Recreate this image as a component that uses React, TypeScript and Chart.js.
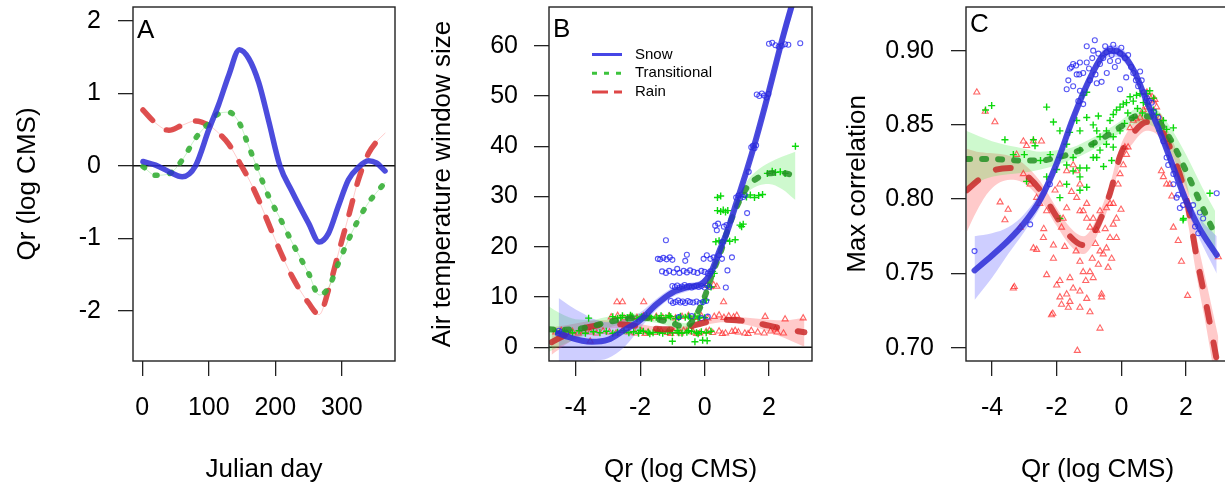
import React, { useEffect, useRef } from 'react';
import { Chart, registerables } from 'chart.js';

Chart.register(...registerables);

const FONT = '"Liberation Sans", Arial, Helvetica, sans-serif';

// ---------------- Panel A : seasonal Qr curves ----------------
const aDays = [1, 20, 40, 60, 80, 100, 115, 130, 146, 160, 175, 190, 207, 225, 250, 266, 280, 295, 310, 325, 340, 352, 365];
const aSnow = [0.06, 0.01, -0.08, -0.15, 0.0, 0.5, 0.85, 1.25, 1.6, 1.48, 1.15, 0.62, 0.0, -0.35, -0.79, -1.05, -0.93, -0.55, -0.19, -0.02, 0.07, 0.04, -0.07];
const aTrans = [-0.01, -0.13, -0.11, 0.08, 0.38, 0.59, 0.72, 0.74, 0.59, 0.27, -0.08, -0.42, -0.72, -1.05, -1.48, -1.78, -1.68, -1.34, -1.02, -0.74, -0.51, -0.37, -0.23];
const aRain = [0.77, 0.59, 0.49, 0.56, 0.62, 0.56, 0.45, 0.3, 0.05, -0.18, -0.47, -0.8, -1.17, -1.52, -1.89, -2.05, -1.71, -1.2, -0.7, -0.19, 0.17, 0.33, 0.45];
const aXTicks = [0, 100, 200, 300];
const aXLabels = ['0', '100', '200', '300'];
const aYTicks = [-2, -1, 0, 1, 2];
const aYLabels = ['-2', '-1', '0', '1', '2'];

// ---------------- Panel B : window size ----------------
const bSnowX = [-4.53, -4.2, -3.8, -3.5, -3.0, -2.5, -2.0, -1.5, -1.0, -0.5, -0.1, 0.2, 0.45, 0.7, 1.0, 1.3, 1.6, 2.0, 2.4, 2.8, 3.05];
const bSnowY = [2.8, 2.0, 1.3, 1.1, 1.5, 3.4, 5.4, 8.5, 10.9, 12.0, 12.6, 14.9, 19.0, 23.0, 29.0, 35.0, 41.5, 51.0, 61.0, 70.0, 75.0];
const bSnowLo = [-6.0, -4.5, -3.5, -2.8, -2.2, 0.0, 3.8, 7.4, 10.0, 11.2, 11.8, 14.0, 18.0, 22.0, 28.0, 33.9, 40.2, 49.5, 59.2, 67.8, 72.4];
const bSnowHi = [9.8, 8.3, 6.8, 5.8, 5.0, 5.6, 6.9, 9.6, 11.8, 12.8, 13.4, 15.8, 20.0, 24.0, 30.0, 36.1, 42.8, 52.5, 62.8, 72.2, 77.6];
const bTransX = [-4.83, -4.5, -4.0, -3.5, -3.0, -2.5, -2.0, -1.5, -1.0, -0.6, -0.3, 0.0, 0.25, 0.5, 0.75, 1.0, 1.3, 1.6, 2.0, 2.4, 2.82];
const bTransY = [3.6, 3.5, 3.6, 4.2, 5.0, 5.6, 5.9, 5.6, 4.8, 4.0, 6.0, 10.0, 14.8, 19.0, 24.0, 28.0, 31.7, 33.5, 34.6, 34.7, 34.1];
const bTransLo = [-0.9, 0.2, 1.6, 2.9, 3.9, 4.7, 5.1, 4.9, 4.0, 3.2, 5.0, 9.0, 13.9, 18.2, 23.1, 27.0, 30.5, 32.0, 32.5, 31.5, 29.3];
const bTransHi = [8.1, 6.8, 5.6, 5.5, 6.1, 6.5, 6.7, 6.3, 5.6, 4.8, 7.0, 11.0, 15.7, 19.8, 24.9, 29.0, 32.9, 35.0, 36.7, 37.9, 38.9];
const bRainX = [-4.75, -4.3, -3.8, -3.3, -2.8, -2.3, -1.8, -1.3, -0.8, -0.3, 0.2, 0.6, 1.0, 1.5, 2.0, 2.5, 3.1];
const bRainY = [1.0, 2.5, 3.7, 4.4, 4.6, 4.4, 3.9, 3.6, 3.6, 4.4, 5.2, 5.5, 5.4, 5.0, 4.3, 3.6, 3.0];
const bRainLo = [-1.5, 0.6, 2.4, 3.4, 3.8, 3.8, 3.4, 3.2, 3.2, 3.9, 4.7, 5.0, 4.8, 4.2, 3.1, 1.8, 0.1];
const bRainHi = [4.0, 4.4, 5.0, 5.4, 5.4, 5.0, 4.4, 4.0, 4.0, 4.9, 5.7, 6.0, 6.0, 5.8, 5.5, 5.4, 5.9];
const bSnowPts = [
  [-4.52, 3.3], [-4.45, 3.0], [-4.3, 2.9], [-4.55, 2.7],
  [-1.05, 9.2], [-0.98, 8.8], [-0.9, 9.0], [-0.82, 9.3], [-0.75, 8.9], [-0.68, 9.1], [-0.6, 8.8], [-0.52, 9.2], [-0.45, 9.0], [-0.35, 8.9], [-0.25, 9.1], [-0.15, 8.8], [-0.05, 9.0], [0.05, 9.2],
  [-1.0, 12.2], [-0.92, 12.0], [-0.85, 12.3], [-0.78, 11.9], [-0.7, 12.1], [-0.62, 12.4], [-0.55, 12.0], [-0.48, 12.2], [-0.4, 11.9], [-0.32, 12.1], [-0.25, 12.3], [-0.18, 12.0], [-0.1, 12.2], [0.0, 11.9], [0.08, 12.3], [0.15, 12.0], [0.66, 11.9],
  [-1.32, 15.1], [-1.2, 14.8], [-1.1, 15.2], [-0.96, 14.9], [-0.85, 15.6], [-0.78, 14.8], [-0.65, 15.2], [-0.55, 14.9], [-0.45, 15.3], [-0.34, 15.0], [-0.22, 14.8], [-0.1, 15.2], [0.0, 15.0], [0.1, 14.7], [0.18, 15.1], [0.71, 15.3],
  [-1.45, 17.6], [-1.38, 17.5], [-1.28, 17.8], [-1.18, 17.5], [-1.08, 17.9], [-1.0, 17.4], [-0.55, 18.4], [-0.6, 17.2], [-0.03, 17.6], [0.07, 18.3], [0.18, 17.6], [0.28, 17.9], [0.45, 18.3], [0.54, 17.6], [0.85, 17.9],
  [-1.2, 21.3], [0.33, 24.2], [0.38, 23.3], [0.42, 24.6], [0.6, 24.0], [0.68, 24.3], [0.55, 21.0],
  [0.98, 29.8], [1.05, 30.2], [1.1, 29.6], [1.15, 30.4], [1.2, 29.9], [1.25, 30.3], [1.32, 26.7], [1.37, 34.9],
  [1.45, 39.8], [1.5, 40.1], [1.55, 39.6], [1.6, 40.2],
  [1.62, 50.3], [1.7, 50.0], [1.78, 50.5], [1.85, 50.1], [1.92, 49.7], [1.98, 50.4],
  [2.0, 60.4], [2.1, 60.6], [2.2, 60.1], [2.3, 59.8], [2.4, 60.0], [2.5, 60.3], [2.6, 60.2], [2.97, 60.5],
  [-0.8, 6.0], [-0.4, 6.2], [-0.1, 5.8], [0.1, 6.1],
];
const bTransPts = [
  [-4.62, 3.2], [-4.5, 2.8], [-4.35, 3.1], [-4.1, 2.9], [-3.9, 3.3], [-3.7, 2.8], [-3.45, 3.1], [-3.25, 2.9], [-3.05, 3.2], [-2.85, 2.8], [-2.7, 3.0], [-2.5, 3.3], [-2.35, 2.9], [-2.2, 3.1], [-2.05, 2.8], [-1.9, 3.2], [-1.75, 3.0], [-1.6, 2.9], [-1.45, 3.2], [-1.3, 2.8], [-1.15, 3.1], [-1.0, 2.9], [-0.85, 3.3], [-0.7, 2.8], [-0.55, 3.0], [-0.4, 3.2], [-0.25, 2.9], [-0.1, 3.1], [0.05, 2.9], [0.2, 3.2],
  [-2.0, 3.4], [-1.7, 2.7], [-1.4, 3.0], [-1.1, 3.4], [-0.8, 2.9], [-0.5, 3.3], [-0.2, 2.7],
  [-2.85, 6.1], [-2.7, 5.8], [-2.55, 6.3], [-2.4, 5.9], [-2.25, 6.2], [-2.1, 5.7], [-1.95, 6.1], [-1.8, 6.3], [-1.65, 5.8], [-1.5, 6.0], [-1.35, 6.3], [-1.2, 5.9], [-1.05, 6.1], [-0.9, 5.7], [-0.75, 6.2], [-0.6, 6.0], [-0.45, 5.8], [-0.3, 6.2], [-0.15, 6.0], [0.0, 5.9],
  [-2.6, 5.9], [-2.3, 6.4], [-2.0, 5.9], [-1.7, 6.1], [-1.4, 5.8], [-1.1, 6.3], [-0.8, 5.9], [-0.5, 6.2], [-0.2, 5.8],
  [-1.0, 1.2], [-0.3, 1.1], [-0.06, 1.4], [0.08, 1.3], [-3.6, 5.8],
  [-0.05, 9.0], [0.05, 9.4], [0.1, 12.2], [0.2, 12.0], [0.25, 15.1], [0.3, 14.7],
  [0.35, 21.0], [0.45, 21.2], [0.55, 20.9], [0.65, 21.3], [0.78, 21.1], [0.95, 21.4],
  [0.4, 27.2], [0.5, 27.0], [0.58, 27.3], [0.65, 26.9], [0.72, 27.2], [0.4, 29.8], [0.5, 30.1],
  [1.1, 24.3], [1.15, 24.0], [1.2, 24.5],
  [1.3, 29.9], [1.42, 30.3], [1.55, 29.8], [1.68, 30.2], [1.8, 30.4],
  [1.95, 34.6], [2.1, 35.0], [2.2, 34.8], [2.35, 34.9], [2.5, 34.6], [2.82, 40.0],
];
const bRainPts = [
  [-4.62, 3.0], [-4.45, 3.3], [-4.28, 2.9], [-4.1, 3.1], [-3.92, 2.8], [-3.75, 3.2], [-3.55, 3.0], [-3.35, 2.8], [-3.15, 3.2], [-2.95, 3.0], [-2.75, 2.8], [-2.55, 3.3], [-2.35, 3.0], [-2.15, 2.8], [-1.95, 3.2], [-1.75, 3.0], [-1.55, 2.9], [-1.35, 3.2], [-1.15, 2.9], [-0.95, 3.1], [-0.75, 2.8], [-0.55, 3.2], [-0.35, 3.0], [-0.15, 2.8], [0.05, 3.1], [0.25, 2.9], [0.45, 3.2], [0.65, 2.8], [0.85, 3.1], [1.05, 3.0], [1.25, 2.8], [1.45, 3.3], [1.65, 3.0], [1.85, 2.8], [2.05, 3.2], [2.25, 3.0], [2.45, 2.8],
  [-1.85, 2.7], [-1.45, 3.3], [-1.05, 2.7], [-0.65, 3.3], [-0.25, 2.7], [0.15, 3.3], [0.55, 2.7], [0.95, 3.3], [1.35, 2.7],
  [-2.9, 6.0], [-2.7, 6.3], [-2.5, 5.8], [-2.3, 6.1], [-2.1, 5.9], [-1.9, 6.2], [-1.7, 5.8], [-1.5, 6.1], [-1.3, 5.9], [-1.1, 6.2], [-0.9, 5.8], [-0.7, 6.1], [-0.5, 6.3], [-0.3, 5.9], [-0.1, 6.2], [0.1, 5.8], [0.3, 6.1], [0.45, 6.4], [0.6, 5.9], [0.75, 6.2], [0.9, 6.0], [1.0, 6.3], [1.88, 6.1], [2.5, 5.6], [3.06, 5.8],
  [-2.72, 9.0], [-2.55, 9.0], [-1.89, 9.0], [0.59, 9.0],
  [0.08, 12.3], [0.18, 12.0], [0.28, 12.4], [0.38, 12.1],
  [-3.55, 1.2], [2.2, 3.6],
];
const bXTicks = [-4, -2, 0, 2];
const bXLabels = ['-4', '-2', '0', '2'];
const bYTicks = [0, 10, 20, 30, 40, 50, 60];
const bYLabels = ['0', '10', '20', '30', '40', '50', '60'];
const legendLabels = ['Snow', 'Transitional', 'Rain'];

// ---------------- Panel C : max correlation ----------------
const cSnowX = [-4.54, -4.0, -3.5, -3.0, -2.5, -2.0, -1.5, -1.0, -0.6, -0.35, 0.0, 0.4, 0.8, 1.2, 1.6, 2.0, 2.4, 2.95];
const cSnowY = [0.752, 0.762, 0.772, 0.784, 0.8, 0.824, 0.854, 0.88, 0.896, 0.9, 0.898, 0.886, 0.865, 0.845, 0.822, 0.799, 0.781, 0.7624];
const cSnowLo = [0.732, 0.747, 0.763, 0.778, 0.795, 0.82, 0.85, 0.876, 0.892, 0.896, 0.894, 0.882, 0.861, 0.841, 0.817, 0.794, 0.774, 0.75];
const cSnowHi = [0.775, 0.777, 0.781, 0.79, 0.805, 0.828, 0.858, 0.884, 0.9, 0.904, 0.902, 0.89, 0.869, 0.849, 0.827, 0.804, 0.788, 0.775];
const cTransX = [-4.8, -4.0, -3.0, -2.5, -2.0, -1.5, -1.0, -0.5, 0.0, 0.5, 1.0, 1.5, 2.0, 2.5, 2.9];
const cTransY = [0.827, 0.827, 0.826, 0.826, 0.828, 0.831, 0.836, 0.842, 0.849, 0.856, 0.855, 0.841, 0.819, 0.795, 0.776];
const cTransLo = [0.808, 0.815, 0.818, 0.82, 0.823, 0.827, 0.832, 0.838, 0.845, 0.851, 0.849, 0.833, 0.808, 0.782, 0.76];
const cTransHi = [0.846, 0.839, 0.834, 0.832, 0.833, 0.835, 0.84, 0.846, 0.853, 0.861, 0.861, 0.849, 0.83, 0.808, 0.792];
const cRainX = [-4.78, -4.47, -4.06, -3.44, -3.03, -2.51, -2.0, -1.59, -1.17, -0.76, -0.35, -0.04, 0.37, 0.79, 1.2, 1.61, 2.02, 2.33, 2.64, 3.0];
const cRainY = [0.806, 0.812, 0.8185, 0.821, 0.8175, 0.806, 0.788, 0.775, 0.769, 0.781, 0.804, 0.829, 0.8444, 0.852, 0.8477, 0.829, 0.7995, 0.761, 0.7276, 0.686];
const cRainLo = [0.778, 0.792, 0.806, 0.813, 0.811, 0.8, 0.782, 0.769, 0.763, 0.775, 0.798, 0.823, 0.838, 0.846, 0.841, 0.82, 0.788, 0.748, 0.712, 0.665];
const cRainHi = [0.834, 0.832, 0.831, 0.829, 0.824, 0.812, 0.794, 0.781, 0.775, 0.787, 0.81, 0.835, 0.851, 0.858, 0.854, 0.838, 0.811, 0.774, 0.743, 0.707];
const cSnowPts = [
  [-4.54, 0.765], [-2.82, 0.783], [-2.21, 0.81],
  [-0.82, 0.907], [-1.07, 0.903], [-1.28, 0.892], [-1.49, 0.891], [-1.54, 0.889], [-1.4, 0.89], [-1.18, 0.885], [-1.64, 0.88], [-1.49, 0.876], [-1.3, 0.884], [-1.07, 0.892], [-0.87, 0.9], [-0.71, 0.898], [-0.66, 0.891], [-0.56, 0.895], [-0.46, 0.899], [-0.35, 0.901], [-0.25, 0.904], [-0.15, 0.9], [-0.04, 0.898], [0.11, 0.895], [0.21, 0.897], [-0.35, 0.893], [-0.2, 0.889], [-0.61, 0.879], [-0.76, 0.878], [-0.97, 0.88], [-1.28, 0.873], [-1.33, 0.866], [-1.18, 0.864], [-1.69, 0.874], [-1.59, 0.888], [-1.38, 0.884], [-0.04, 0.874], [0.37, 0.885], [0.52, 0.876], [0.63, 0.88], [0.58, 0.886], [0.79, 0.868], [1.0, 0.859], [0.94, 0.865], [1.14, 0.855], [1.3, 0.839], [1.4, 0.828], [1.45, 0.823], [1.61, 0.81], [1.81, 0.794], [1.91, 0.796], [1.61, 0.817], [1.71, 0.801], [2.22, 0.796], [2.43, 0.791], [1.76, 0.803], [2.07, 0.796], [2.28, 0.7815], [2.38, 0.777], [2.12, 0.793], [2.95, 0.804], [2.53, 0.787],
  [-0.5, 0.903], [-0.3, 0.897], [-0.1, 0.893], [0.0, 0.902], [0.3, 0.889], [-0.9, 0.895], [-1.0, 0.888], [-0.45, 0.885], [-0.8, 0.884], [0.15, 0.882], [0.45, 0.88], [0.7, 0.872], [0.85, 0.866],
];
const cTransPts = [
  [-4.01, 0.863], [-4.2, 0.86], [-3.6, 0.84], [-3.34, 0.83], [-2.72, 0.84], [-2.67, 0.836], [-2.31, 0.862], [-2.1, 0.852], [-1.9, 0.846], [-1.38, 0.853], [-1.28, 0.846], [-1.07, 0.855], [-0.87, 0.85], [-0.71, 0.856], [-0.76, 0.846], [-0.46, 0.846], [-0.35, 0.853], [-0.25, 0.857], [-0.15, 0.86], [-0.04, 0.862], [0.06, 0.864], [0.16, 0.865], [0.27, 0.869], [0.37, 0.866], [0.47, 0.87], [0.58, 0.871], [0.68, 0.865], [0.79, 0.871], [0.88, 0.873], [0.99, 0.86], [1.09, 0.857], [1.3, 0.853], [1.4, 0.847], [-1.07, 0.872], [-1.18, 0.87],
  [-1.9, 0.828], [-1.69, 0.823], [-1.49, 0.819], [-1.28, 0.815], [-1.07, 0.821], [-0.87, 0.828], [-0.66, 0.833], [-0.46, 0.837], [-0.25, 0.842], [-1.28, 0.833], [-0.87, 0.837], [-1.69, 0.837], [-1.49, 0.828], [-1.69, 0.81], [-1.28, 0.806], [-1.07, 0.808], [-1.9, 0.787], [-2.31, 0.815], [-2.93, 0.812], [-1.9, 0.801], [-1.28, 0.821], [-0.76, 0.828], [-0.25, 0.835], [-0.04, 0.846], [0.37, 0.855], [0.2, 0.858], [-0.66, 0.842],
  [1.91, 0.786], [2.74, 0.804], [1.92, 0.787], [1.19, 0.846], [1.5, 0.839], [1.61, 0.848], [-2.5, 0.826], [-2.0, 0.82], [-0.55, 0.822], [-0.3, 0.826], [0.1, 0.851], [0.5, 0.861], [0.65, 0.858], [0.8, 0.864], [1.0, 0.868], [-1.6, 0.845], [-2.2, 0.83], [-3.0, 0.83],
];
const cRainPts = [
  [-4.47, 0.872], [-4.21, 0.859], [-3.91, 0.852], [-3.75, 0.798], [-3.5, 0.793], [-3.6, 0.786], [-3.34, 0.74], [-3.13, 0.781], [-3.03, 0.839], [-2.93, 0.836], [-2.72, 0.839], [-2.47, 0.839], [-3.24, 0.83], [-3.03, 0.817], [-2.82, 0.81], [-2.62, 0.801], [-2.52, 0.797], [-2.72, 0.767], [-2.62, 0.766], [-2.41, 0.774], [-2.31, 0.749], [-2.1, 0.76], [-2.0, 0.742], [-2.16, 0.722], [-1.9, 0.734], [-1.85, 0.729], [-1.69, 0.736], [-1.8, 0.787], [-1.69, 0.794], [-1.54, 0.805], [-1.38, 0.801], [-1.28, 0.81], [-1.38, 0.819], [-1.18, 0.792], [-1.07, 0.797], [-0.97, 0.781], [-0.87, 0.787],
  [-1.28, 0.758], [-1.18, 0.751], [-0.97, 0.751], [-0.87, 0.747], [-0.71, 0.756], [-0.66, 0.765], [-0.56, 0.763], [-0.46, 0.767], [-0.41, 0.754], [-0.35, 0.774], [-0.25, 0.783], [-0.15, 0.787], [-0.15, 0.774], [-1.59, 0.747], [-1.49, 0.74], [-1.28, 0.738], [-1.07, 0.733], [-0.97, 0.724], [-1.28, 0.727], [-0.66, 0.713], [-0.61, 0.734], [-1.36, 0.698], [-1.9, 0.745], [-1.59, 0.731], [-1.64, 0.727],
  [-2.1, 0.769], [-1.85, 0.781], [-2.31, 0.792], [-2.05, 0.806], [-1.9, 0.81], [-1.69, 0.819], [-1.49, 0.823], [-1.28, 0.792], [-1.07, 0.787], [-0.76, 0.779], [-0.66, 0.792], [-0.46, 0.794], [-0.35, 0.797], [-0.25, 0.797], [-0.1, 0.81], [-0.04, 0.817], [0.06, 0.823], [0.11, 0.835], [0.21, 0.835], [0.16, 0.83], [0.27, 0.848], [0.37, 0.853], [0.47, 0.854], [0.58, 0.855], [0.68, 0.86], [0.79, 0.862], [0.88, 0.869], [0.79, 0.872], [0.99, 0.866], [1.09, 0.862], [1.19, 0.855],
  [1.24, 0.819], [1.3, 0.815], [1.4, 0.81], [1.5, 0.81], [1.61, 0.781], [1.76, 0.772], [1.86, 0.758], [2.05, 0.735], [-0.01, 0.793], [-0.61, 0.736], [1.56, 0.802], [3.0, 0.761], [-2.12, 0.723], [-3.31, 0.741], [0.95, 0.869], [1.04, 0.867],
  [-2.4, 0.78], [-1.75, 0.768], [-1.4, 0.765], [-0.8, 0.77], [-0.5, 0.78], [-0.3, 0.76], [-0.9, 0.76], [-1.1, 0.745],
];
const cXTicks = [-4, -2, 0, 2];
const cXLabels = ['-4', '-2', '0', '2'];
const cYTicks = [0.7, 0.75, 0.8, 0.85, 0.9];
const cYLabels = ['0.70', '0.75', '0.80', '0.85', '0.90'];

const REF_LINE = 0;

// ---------------- colours ----------------
const BLUE = 'rgba(45,45,215,0.85)';
const GREEN_A = 'rgba(55,175,55,0.9)';
const RED_A = 'rgba(218,60,60,0.9)';
const GREEN_L = 'rgba(35,145,35,0.85)';
const RED_L = 'rgba(200,35,35,0.82)';
const BLUE_BAND = 'rgba(80,80,255,0.28)';
const GREEN_BAND = 'rgba(60,230,60,0.25)';
const RED_BAND = 'rgba(255,80,80,0.3)';
const BLUE_PT = 'rgba(30,30,240,0.75)';
const GREEN_PT = 'rgba(0,215,0,0.95)';
const RED_PT = 'rgba(255,35,35,0.7)';

function xy(xs: number[], ys: number[]) {
  return xs.map((x, i) => ({ x, y: ys[i] }));
}

function lineDs(xs: number[], ys: number[], color: string, width: number, dash: number[], order: number) {
  return {
    data: xy(xs, ys),
    showLine: true,
    borderColor: color,
    backgroundColor: color,
    borderWidth: width,
    borderDash: dash,
    borderCapStyle: 'round',
    borderJoinStyle: 'round',
    pointRadius: 0,
    pointHoverRadius: 0,
    fill: false,
    cubicInterpolationMode: 'monotone',
    order,
  };
}

function bandDs(xs: number[], lo: number[], hi: number[], color: string, order: number) {
  const base = {
    showLine: true,
    borderColor: 'rgba(0,0,0,0)',
    borderWidth: 1,
    pointRadius: 0,
    pointHoverRadius: 0,
    cubicInterpolationMode: 'monotone',
    order,
  };
  return [
    { ...base, data: xy(xs, lo), fill: false },
    { ...base, data: xy(xs, hi), fill: '-1', backgroundColor: color },
  ];
}

function pointDs(pts: number[][], style: string, color: string, radius: number, bw: number, order: number) {
  return {
    data: pts.map(p => ({ x: p[0], y: p[1] })),
    showLine: false,
    pointStyle: style,
    pointRadius: radius,
    pointHoverRadius: radius,
    pointBorderWidth: bw,
    borderColor: color,
    pointBorderColor: color,
    backgroundColor: 'rgba(0,0,0,0)',
    pointBackgroundColor: 'rgba(0,0,0,0)',
    order,
  };
}

function axis(pos: string, min: number, max: number, ticks: number[], labels: string[], title: string, fit: number, tickPad: number, titlePad: number) {
  return {
    type: 'linear',
    position: pos,
    min,
    max,
    afterBuildTicks: (s: any) => {
      s.ticks = ticks.map(v => ({ value: v }));
    },
    afterFit: (s: any) => {
      if (pos === 'left') s.width = fit;
      else s.height = fit;
      s.paddingTop = 0;
      s.paddingBottom = 0;
      s.paddingLeft = 0;
      s.paddingRight = 0;
    },
    ticks: {
      callback: (_v: any, i: number) => labels[i],
      font: { family: FONT, size: 25, lineHeight: 1.2 },
      color: '#000',
      padding: tickPad,
      autoSkip: false,
      maxRotation: 0,
      minRotation: 0,
    },
    grid: {
      display: true,
      drawOnChartArea: false,
      drawTicks: true,
      tickLength: 15,
      color: '#222',
      lineWidth: 1.3,
    },
    border: { display: false },
    title: {
      display: true,
      text: title,
      font: { family: FONT, size: 26, lineHeight: 1.2 },
      color: '#000',
      padding: pos === 'left' ? { top: titlePad, bottom: 0 } : { top: 0, bottom: titlePad },
    },
  };
}

function decoPlugin(letter: string, letterBaseline: number, hline: boolean, legend: boolean) {
  return {
    id: 'deco' + letter,
    beforeDatasetsDraw(chart: any) {
      if (!hline) return;
      const { ctx, chartArea: a, scales } = chart;
      const y = scales.y.getPixelForValue(REF_LINE);
      ctx.save();
      ctx.strokeStyle = '#111';
      ctx.lineWidth = 1.5;
      ctx.beginPath();
      ctx.moveTo(a.left, y);
      ctx.lineTo(a.right, y);
      ctx.stroke();
      ctx.restore();
    },
    afterDraw(chart: any) {
      const { ctx, chartArea: a } = chart;
      ctx.save();
      ctx.strokeStyle = '#222';
      ctx.lineWidth = 1.4;
      ctx.strokeRect(a.left, a.top, a.right - a.left, a.bottom - a.top);
      ctx.fillStyle = '#000';
      ctx.font = `26px ${FONT}`;
      ctx.textBaseline = 'alphabetic';
      ctx.textAlign = 'left';
      ctx.fillText(letter, a.left + 4, letterBaseline);
      if (legend) {
        const styles = [
          { c: 'rgba(70,70,230,1)', d: [] as number[] },
          { c: 'rgba(60,195,60,1)', d: [5, 7] },
          { c: 'rgba(222,70,70,1)', d: [16, 6] },
        ];
        ctx.font = `15px ${FONT}`;
        ctx.textBaseline = 'middle';
        legendLabels.forEach((lab, i) => {
          const y = a.top + 47.5 + i * 18.7;
          ctx.strokeStyle = styles[i].c;
          ctx.lineWidth = 3;
          ctx.setLineDash(styles[i].d);
          ctx.beginPath();
          ctx.moveTo(a.left + 43, y);
          ctx.lineTo(a.left + 73, y);
          ctx.stroke();
          ctx.setLineDash([]);
          ctx.fillStyle = '#000';
          ctx.fillText(lab, a.left + 86, y);
        });
      }
      ctx.restore();
    },
  };
}

function baseOptions(padRight: number, x: any, y: any) {
  return {
    responsive: false,
    animation: false,
    events: [],
    devicePixelRatio: 1,
    layout: { padding: { left: 0, top: 7, right: padRight, bottom: 0 } },
    plugins: { legend: { display: false }, tooltip: { enabled: false } },
    scales: { x, y },
  };
}

function configA(): any {
  return {
    type: 'scatter',
    data: {
      datasets: [
        lineDs(aDays, aSnow, BLUE, 5.5, [], 0),
        lineDs(aDays, aTrans, GREEN_A, 5.5, [2, 13], 1),
        lineDs(aDays, aRain, RED_A, 5.5, [14, 17], 2),
        lineDs(aDays, aTrans, 'rgba(100,220,100,0.35)', 1, [], 3),
        lineDs(aDays, aRain, 'rgba(255,110,110,0.35)', 1, [], 4),
      ],
    },
    options: baseOptions(
      15,
      axis('bottom', -14, 380, aXTicks, aXLabels, 'Julian day', 127, 17.5, 2.4),
      axis('left', -2.69, 2.19, aYTicks, aYLabels, 'Qr (log CMS)', 133, 17, 12.4),
    ),
    plugins: [decoPlugin('A', 38, true, false)],
  };
}

function configB(): any {
  return {
    type: 'scatter',
    data: {
      datasets: [
        lineDs(bSnowX, bSnowY, BLUE, 6, [], 0),
        lineDs(bTransX, bTransY, GREEN_L, 6, [4, 12], 1),
        lineDs(bRainX, bRainY, RED_L, 6, [15, 21], 2),
        pointDs(bSnowPts, 'circle', BLUE_PT, 2.5, 1.1, 3),
        pointDs(bTransPts, 'cross', GREEN_PT, 3.5, 1.4, 4),
        pointDs(bRainPts, 'triangle', RED_PT, 3.5, 1.1, 5),
        ...bandDs(bSnowX, bSnowLo, bSnowHi, BLUE_BAND, 6),
        ...bandDs(bTransX, bTransLo, bTransHi, GREEN_BAND, 7),
        ...bandDs(bRainX, bRainLo, bRainHi, RED_BAND, 8),
      ],
    },
    options: baseOptions(
      8,
      axis('bottom', -4.83, 3.335, bXTicks, bXLabels, 'Qr (log CMS)', 127, 17.5, 2.4),
      axis('left', -2.725, 67.7, bYTicks, bYLabels, 'Air temperature window size', 129, 16, 7.4),
    ),
    plugins: [decoPlugin('B', 37, true, true)],
  };
}

function configC(): any {
  return {
    type: 'scatter',
    data: {
      datasets: [
        lineDs(cSnowX, cSnowY, BLUE, 6, [], 0),
        lineDs(cTransX, cTransY, GREEN_L, 6, [4, 12], 1),
        lineDs(cRainX, cRainY, RED_L, 6, [15, 21], 2),
        pointDs(cSnowPts, 'circle', BLUE_PT, 2.5, 1.1, 3),
        pointDs(cTransPts, 'cross', GREEN_PT, 3.5, 1.4, 4),
        pointDs(cRainPts, 'triangle', RED_PT, 3.5, 1.1, 5),
        ...bandDs(cSnowX, cSnowLo, cSnowHi, BLUE_BAND, 6),
        ...bandDs(cTransX, cTransLo, cTransHi, GREEN_BAND, 7),
        ...bandDs(cRainX, cRainLo, cRainHi, RED_BAND, 8),
      ],
    },
    options: baseOptions(
      11,
      axis('bottom', -4.804, 3.33, cXTicks, cXLabels, 'Qr (log CMS)', 127, 17.5, 2.4),
      axis('left', 0.691, 0.9294, cYTicks, cYLabels, 'Max correlation', 136, 17, 12.4),
    ),
    plugins: [decoPlugin('C', 32, false, false)],
  };
}

export default function App() {
  const refA = useRef<HTMLCanvasElement>(null);
  const refB = useRef<HTMLCanvasElement>(null);
  const refC = useRef<HTMLCanvasElement>(null);

  useEffect(() => {
    const charts = [
      new Chart(refA.current as HTMLCanvasElement, configA()),
      new Chart(refB.current as HTMLCanvasElement, configB()),
      new Chart(refC.current as HTMLCanvasElement, configC()),
    ];
    return () => charts.forEach(c => c.destroy());
  }, []);

  const cs: React.CSSProperties = { position: 'absolute', top: 0 };
  return (
    <div style={{ position: 'fixed', left: 0, top: 0, width: 1225, height: 488, overflow: 'hidden', background: '#fff' }}>
      <canvas ref={refA} width={410} height={488} style={{ ...cs, left: 0, width: 410, height: 488 }} />
      <canvas ref={refB} width={400} height={488} style={{ ...cs, left: 420, width: 400, height: 488 }} />
      <canvas ref={refC} width={410} height={488} style={{ ...cs, left: 830, width: 410, height: 488 }} />
    </div>
  );
}
